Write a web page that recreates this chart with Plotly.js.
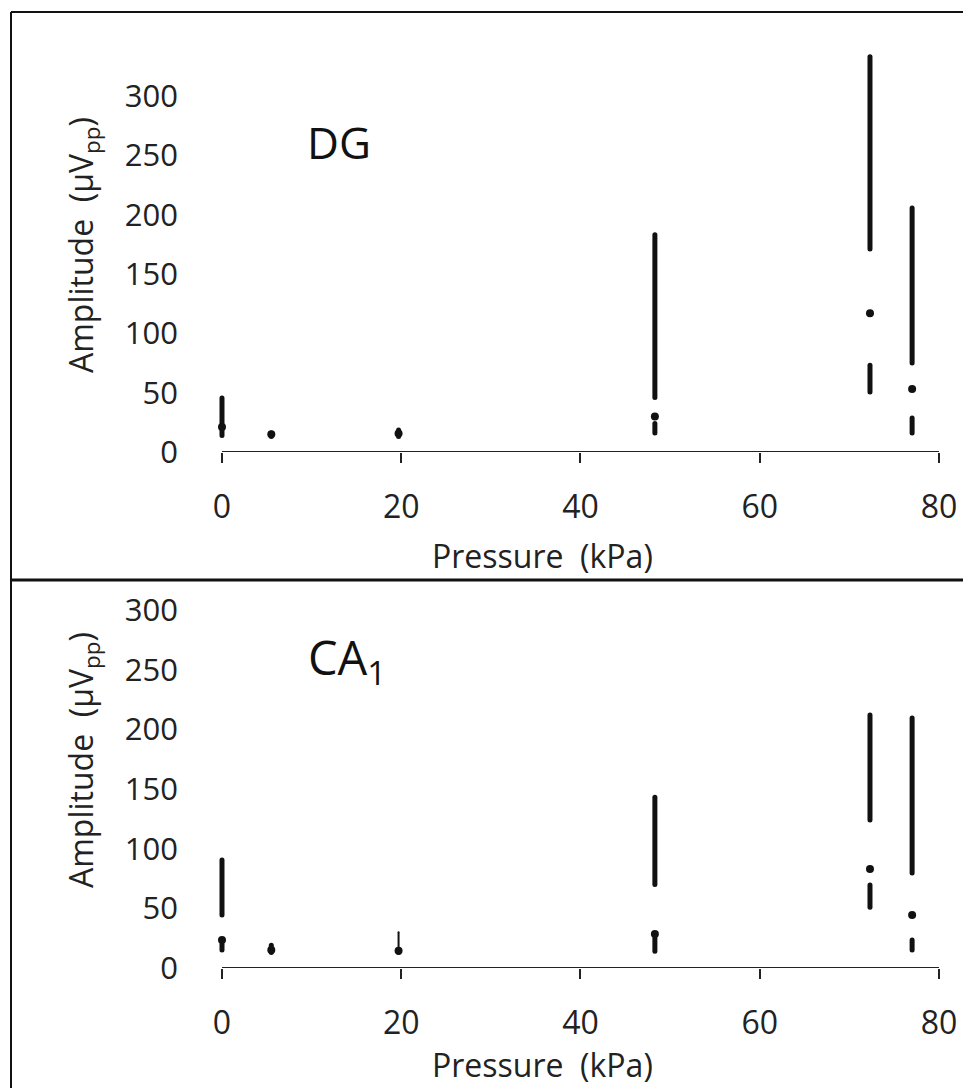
<!DOCTYPE html>
<html>
<head>
<meta charset="utf-8">
<script src="https://cdn.plot.ly/plotly-3.0.1.min.js"></script>
<style>html,body{margin:0;padding:0;background:#fff;}#chart{width:963px;height:1088px;}
.js-line{stroke-linecap:round;}</style>
</head>
<body>
<div id="chart"></div>
<script>
// Pressure positions (kPa)
const pressure = [0, 5.5, 19.7, 48.3, 72.3, 77.0];

// DG panel: min, lower quartile, median, upper quartile, max (µVpp)
const dgMin = [14, 13, 13, 16, 50.5, 16];
const dgQ1  = [19, 14.5, 14.5, 24, 73, 28.6];
const dgMed = [21, 15, 15.5, 30, 117, 53];
const dgQ3  = [24, 15.5, 17, 46, 171, 75];
const dgMax = [45.5, 16, 18.5, 183, 333, 205.6];

// CA1 panel
const caMin = [15, 13, 13, 14, 51, 15];
const caQ1  = [20, 14.5, 14, 25, 69.6, 23.5];
const caMed = [23.5, 15, 14.5, 28.5, 83, 44.4];
const caQ3  = [44.4, 16.5, 15, 70, 124, 79.6];
const caMax = [90.5, 19, 30, 143, 212, 209.6];

const yTicks = [0, 50, 100, 150, 200, 250, 300];
const xTicks = [0, 20, 40, 60, 80];

const INK = '#111';
const FONT = '"Open Sans", "Noto Sans", sans-serif';

function segs(x, a, b, idxs) {
  const xs = [], ys = [];
  idxs.forEach(i => { xs.push(x[i], x[i], null); ys.push(a[i], b[i], null); });
  return {xs, ys};
}

function panelTraces(xa, ya, mn, q1, med, q3, mx, thin) {
  const all = pressure.map((_, i) => i);
  const thick = all.filter(i => thin.indexOf(i) < 0);
  const lo = segs(pressure, mn, q1, all);
  const hiT = segs(pressure, q3, mx, thick);
  const hiN = segs(pressure, q3, mx, thin);
  const base = {type: 'scatter', mode: 'lines', xaxis: xa, yaxis: ya, hoverinfo: 'skip', showlegend: false};
  return [
    Object.assign({}, base, {x: lo.xs, y: lo.ys, line: {color: INK, width: 5}}),
    Object.assign({}, base, {x: hiT.xs, y: hiT.ys, line: {color: INK, width: 5}}),
    Object.assign({}, base, {x: hiN.xs, y: hiN.ys, line: {color: INK, width: 2}}),
    {type: 'scatter', mode: 'markers', x: pressure, y: med, xaxis: xa, yaxis: ya,
     marker: {color: INK, size: 8}, showlegend: false, hoverinfo: 'skip'}
  ];
}

const data = [].concat(
  panelTraces('x', 'y', dgMin, dgQ1, dgMed, dgQ3, dgMax, []),
  panelTraces('x2', 'y2', caMin, caQ1, caMed, caQ3, caMax, [2])
);

const W = 963, H = 1088;
const px = v => v / W;
const py = v => 1 - v / H;

// x range padded so that the marks at 0 kPa are not clipped; axis line drawn as a shape 0..80
const XPAD = 1.2;
const X0 = 222 - XPAD * (939 - 222) / 80, X1 = 939 + XPAD * (939 - 222) / 80;

function xAxis(anchor) {
  return {
    domain: [px(X0), px(X1)], anchor: anchor, range: [-XPAD, 80 + XPAD],
    tickvals: xTicks, ticktext: xTicks.map(String),
    showline: false,
    ticks: 'outside', ticklen: 10, tickwidth: 2, tickcolor: '#222',
    ticklabelstandoff: 17,
    showgrid: false, zeroline: false, fixedrange: true,
    tickfont: {family: FONT, size: 32, color: '#222'}
  };
}
function yAxis(domain, anchor) {
  return {
    domain: domain, anchor: anchor, range: [0, 340],
    tickvals: yTicks, ticktext: yTicks.map(String),
    showline: false, showgrid: false, zeroline: false, fixedrange: true,
    // invisible ticks used only to keep the labels clear of the axis
    ticks: 'outside', ticklen: 26, tickcolor: 'rgba(0,0,0,0)',
    tickfont: {family: FONT, size: 31, color: '#222'}
  };
}

const dgTop = 452 - 340 * (452 - 96) / 300;
const caTop = 968 - 340 * (968 - 610) / 300;

const layout = {
  width: W, height: H,
  margin: {l: 0, r: 0, t: 0, b: 0},
  paper_bgcolor: '#fff', plot_bgcolor: 'rgba(0,0,0,0)',
  showlegend: false,
  xaxis: xAxis('y'),
  yaxis: yAxis([py(452), py(dgTop)], 'x'),
  xaxis2: xAxis('y2'),
  yaxis2: yAxis([py(968), py(caTop)], 'x2'),
  annotations: [
    {xref: 'paper', yref: 'paper', x: px(339), y: py(142), text: 'DG', showarrow: false,
     font: {family: FONT, size: 44, color: '#111'}, xanchor: 'center', yanchor: 'middle'},
    {xref: 'paper', yref: 'paper', x: px(347), y: py(660), text: 'CA<sub>1</sub>', showarrow: false,
     font: {family: FONT, size: 47, color: '#111'}, xanchor: 'center', yanchor: 'middle'},
    {xref: 'paper', yref: 'paper', x: px(542), y: py(555), text: 'Pressure\u00a0 (kPa)', showarrow: false,
     font: {family: FONT, size: 32, color: '#222'}, xanchor: 'center', yanchor: 'middle'},
    {xref: 'paper', yref: 'paper', x: px(542), y: py(1087), text: 'Pressure\u00a0 (kPa)', showarrow: false,
     font: {family: FONT, size: 32, color: '#222'}, xanchor: 'center', yanchor: 'bottom', borderpad: 0},
    {xref: 'paper', yref: 'paper', x: px(83), y: py(245), text: 'Amplitude\u00a0 (µV<sub>pp</sub>)', showarrow: false,
     textangle: -90, font: {family: FONT, size: 32, color: '#222'}, xanchor: 'center', yanchor: 'middle'},
    {xref: 'paper', yref: 'paper', x: px(83), y: py(760), text: 'Amplitude\u00a0 (µV<sub>pp</sub>)', showarrow: false,
     textangle: -90, font: {family: FONT, size: 32, color: '#222'}, xanchor: 'center', yanchor: 'middle'}
  ],
  shapes: [
    {type: 'line', xref: 'x', yref: 'y', x0: 0, x1: 80, y0: 0, y1: 0, line: {color: '#222', width: 2}},
    {type: 'line', xref: 'x2', yref: 'y2', x0: 0, x1: 80, y0: 0, y1: 0, line: {color: '#222', width: 2}},
    {type: 'line', xref: 'paper', yref: 'paper', x0: px(11), x1: 1, y0: py(12), y1: py(12), line: {color: '#111', width: 2}},
    {type: 'line', xref: 'paper', yref: 'paper', x0: px(11), x1: 1, y0: py(580), y1: py(580), line: {color: '#111', width: 3}},
    {type: 'line', xref: 'paper', yref: 'paper', x0: px(11), x1: px(11), y0: py(12), y1: 0, line: {color: '#111', width: 2}}
  ]
};

Plotly.newPlot('chart', data, layout, {displayModeBar: false, staticPlot: true});
</script>
</body>
</html>
